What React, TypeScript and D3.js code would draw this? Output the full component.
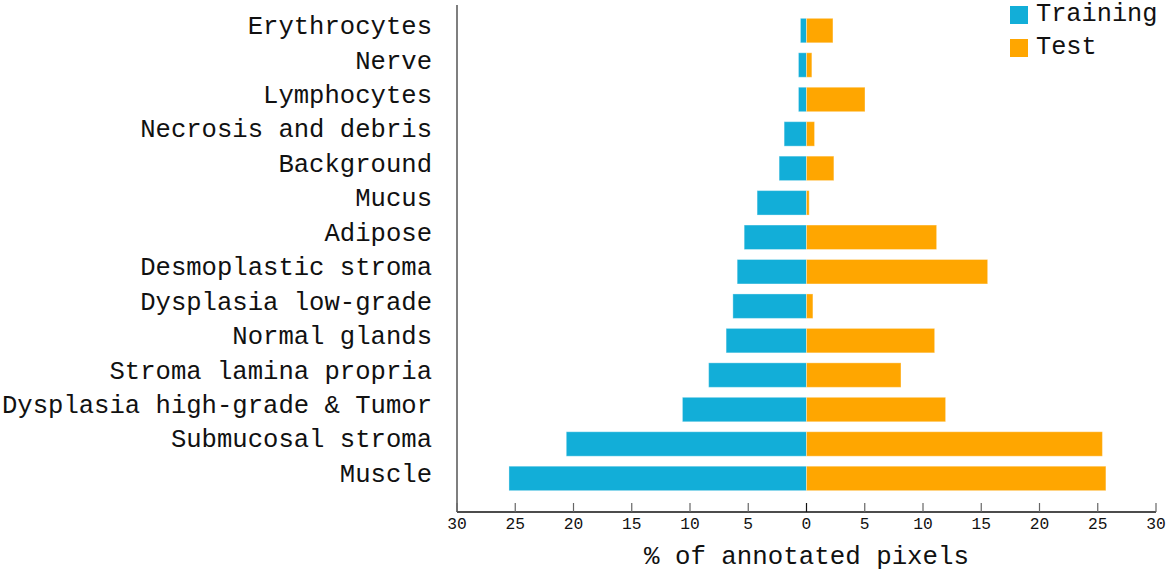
import React from "react";
import * as d3 from "d3";

const categories = [
  "Erythrocytes",
  "Nerve",
  "Lymphocytes",
  "Necrosis and debris",
  "Background",
  "Mucus",
  "Adipose",
  "Desmoplastic stroma",
  "Dysplasia low-grade",
  "Normal glands",
  "Stroma lamina propria",
  "Dysplasia high-grade & Tumor",
  "Submucosal stroma",
  "Muscle",
];
const trainingValues = [0.52, 0.69, 0.69, 1.92, 2.35, 4.24, 5.35, 5.95, 6.32, 6.9, 8.4, 10.65, 20.62, 25.54];
const testValues = [2.27, 0.46, 5.02, 0.69, 2.35, 0.23, 11.17, 15.55, 0.55, 11.0, 8.11, 11.94, 25.4, 25.7];
const tickValues = [-30, -25, -20, -15, -10, -5, 0, 5, 10, 15, 20, 25, 30];
const seriesNames = ["Training", "Test"];
const seriesColors = ["#12AED8", "#FFA600"];

const W = 1167;
const H = 577;
const FONT = "'Liberation Mono', 'DejaVu Sans Mono', monospace";

export default function App() {
  const x = d3.scaleLinear().domain([-30, 30]).range([457, 1156]);
  const y = d3
    .scaleBand<string>()
    .domain(categories)
    .range([5, 504])
    .paddingInner(0.29)
    .paddingOuter(0.387);
  const bw = y.bandwidth();
  const axisY = 512;

  return (
    <svg
      width={W}
      height={H}
      style={{ position: "absolute", left: 0, top: 0, background: "#fff" }}
      fontFamily={FONT}
    >
      {categories.map((c, i) => (
        <g key={c}>
          <rect
            x={x(-trainingValues[i])}
            y={y(c)!}
            width={x(0) - x(-trainingValues[i])}
            height={bw}
            fill={seriesColors[0]}
            stroke="#ffffff"
            strokeOpacity={0.35}
            strokeWidth={1}
          />
          <rect
            x={x(0)}
            y={y(c)!}
            width={x(testValues[i]) - x(0)}
            height={bw}
            fill={seriesColors[1]}
            stroke="#ffffff"
            strokeOpacity={0.35}
            strokeWidth={1}
          />
        </g>
      ))}
      {categories.map((c) => (
        <text
          key={"l" + c}
          x={432}
          y={y(c)! + bw / 2 - 3}
          textAnchor="end"
          dominantBaseline="central"
          fontSize={25.6}
          fill="#111"
        >
          {c}
        </text>
      ))}
      <line x1={457} x2={457} y1={5} y2={axisY} stroke="#555" strokeWidth={1.5} />
      <line x1={457} x2={1156} y1={axisY} y2={axisY} stroke="#111" strokeWidth={1.5} />
      {tickValues.map((t) => (
        <g key={"t" + t}>
          <line
            x1={x(t)}
            x2={x(t)}
            y1={axisY}
            y2={axisY - 9}
            stroke={t === 0 ? "#111" : "#666"}
            strokeWidth={1.2}
          />
          <text
            x={x(t)}
            y={524}
            textAnchor="middle"
            dominantBaseline="central"
            fontSize={16.3}
            fill="#111"
          >
            {Math.abs(t)}
          </text>
        </g>
      ))}
      <text x={x(0)} y={557} textAnchor="middle" dominantBaseline="central" fontSize={25.8} fill="#111">
        % of annotated pixels
      </text>
      {seriesNames.map((s, i) => (
        <g key={s}>
          <rect x={1010} y={6 + i * 33} width={18} height={18} fill={seriesColors[i]} />
          <text x={1036} y={14 + i * 33} dominantBaseline="central" fontSize={25.3} fill="#111">
            {s}
          </text>
        </g>
      ))}
    </svg>
  );
}
